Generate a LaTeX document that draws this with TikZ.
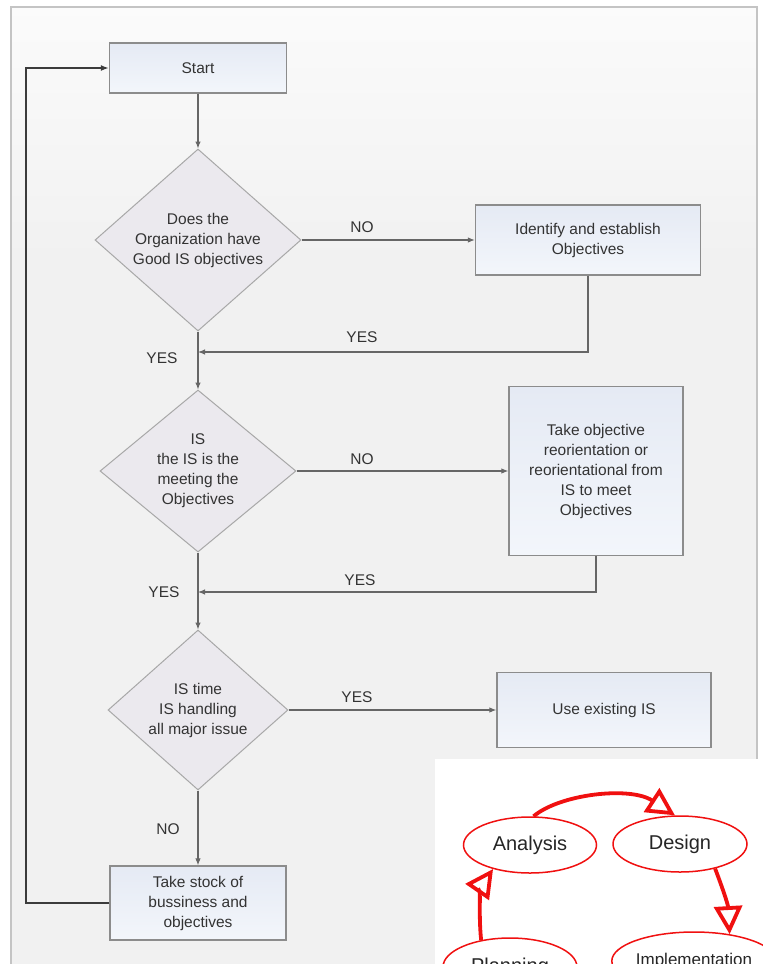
\documentclass[tikz,border=0pt]{standalone}
\usepackage{fontspec}
\setmainfont{Liberation Sans}
\usetikzlibrary{arrows.meta,shapes.geometric}
\definecolor{panelfill}{HTML}{F1F1F1}
\definecolor{panelline}{HTML}{C4C4C4}
\definecolor{boxline}{HTML}{8C8C8C}
\definecolor{boxtop}{HTML}{E5EAF4}
\definecolor{boxbot}{HTML}{F3F6FB}
\definecolor{diafill}{HTML}{EBE9EE}
\definecolor{dialine}{HTML}{A8A8A8}
\definecolor{connline}{HTML}{666666}
\definecolor{loopline}{HTML}{3C3C3C}
\definecolor{txt}{HTML}{333333}
\definecolor{cycred}{HTML}{F01010}
\tikzset{
  flowtext/.style={font=\fontsize{15.5}{20}\selectfont, text=txt, align=center},
  procbox/.style={flowtext, rectangle, draw=boxline, line width=1.3pt,
    top color=boxtop, bottom color=boxbot, inner sep=0pt},
  decision/.style={flowtext, diamond, draw=dialine, line width=1pt,
    fill=diafill, inner sep=0pt},
  conn/.style={draw=connline, line width=1.1pt, -{Latex[length=7pt,width=5.5pt]}},
  loopconn/.style={draw=loopline, line width=1.6pt, -{Latex[length=8pt,width=6pt]}},
  edgelabel/.style={flowtext, inner sep=0pt},
  phase/.style={ellipse, draw=cycred, line width=1.5pt, fill=white, inner sep=0pt,
    text=black!85, font=\fontsize{20}{22}\selectfont},
  cycarrow/.style={draw=cycred, line width=3.8pt,
    -{Triangle[open,length=28pt,width=28pt]}}
}
\begin{document}
\begin{tikzpicture}[x=1pt,y=-1pt]
\useasboundingbox (0,0) rectangle (763,964);
% background panel
\fill[white] (0,0) rectangle (763,964);
\fill[panelfill] (11,7) rectangle (757,975);
\shade[top color=white!70!panelfill, bottom color=panelfill] (12,8) rectangle (756,260);
\draw[panelline, line width=2pt] (11,980) -- (11,7) -- (757,7) -- (757,980);

% nodes
\node[procbox, minimum width=177pt, minimum height=50pt] (start) at (198,68) {Start};
\node[decision, minimum width=206pt, minimum height=182pt, aspect=1.13] (d1) at (198,240)
  {Does the\\Organization have\\Good IS objectives};
\node[procbox, minimum width=225pt, minimum height=70pt] (b2) at (588,240)
  {Identify and establish\\Objectives};
\node[decision, minimum width=196pt, minimum height=162pt, aspect=1.21] (d2) at (198,471)
  {IS\\the IS is the\\meeting the\\Objectives};
\node[procbox, minimum width=174pt, minimum height=169pt] (b3) at (596,471)
  {Take objective\\reorientation or\\reorientational from\\IS to meet\\Objectives};
\node[decision, minimum width=180pt, minimum height=160pt, aspect=1.12] (d3) at (198,710)
  {IS time\\IS handling\\all major issue};
\node[procbox, minimum width=214pt, minimum height=75pt] (b4) at (604,710)
  {Use existing IS};
\node[procbox, minimum width=176pt, minimum height=74pt] (b5) at (198,903)
  {Take stock of\\bussiness and\\objectives};

\coordinate (j1) at (198,352);
\coordinate (j2) at (198,592);
\coordinate (lp) at (26,903);

% connectors
\draw[conn] (start.south) -- (d1.north);
\draw[conn] (d1.east) -- (b2.west);
\draw[conn] (b2.south) |- (j1);
\draw[conn] (d1.south) -- (d2.north);
\draw[conn] (d2.east) -- (b3.west);
\draw[conn] (b3.south) |- (j2);
\draw[conn] (d2.south) -- (d3.north);
\draw[conn] (d3.east) -- (b4.west);
\draw[conn] (d3.south) -- (b5.north);
\draw[loopconn] (b5.west) -- (lp) |- (start.west);

% labels
\node[edgelabel] (l1) at (362,227) {NO};
\node[edgelabel] (l2) at (362,337) {YES};
\node[edgelabel] (l3) at (162,358) {YES};
\node[edgelabel] (l4) at (362,459) {NO};
\node[edgelabel] (l5) at (360,580) {YES};
\node[edgelabel] (l6) at (164,592) {YES};
\node[edgelabel] (l7) at (357,697) {YES};
\node[edgelabel] (l8) at (168,829) {NO};

% inset
\begin{scope}
\clip (435,759) rectangle (763,964);
\fill[white] (435,759) rectangle (763,964);
\node[phase, minimum width=133pt, minimum height=56pt] (ana) at (530,845) {Analysis};
\node[phase, minimum width=134pt, minimum height=56pt] (des) at (680,844) {Design};
\node[phase, minimum width=134pt, minimum height=58pt] (pla) at (510,967) {Planning};
\node[phase, minimum width=132pt, minimum height=58pt, font=\fontsize{17}{19}\selectfont] (imp) at (694,961) {Implementation};
\draw[cycarrow] (ana.83) .. controls (560,794) and (630,786) .. (des.100);
\draw[cycarrow] (des.-35) .. controls (724,892) and (728,905) .. (imp.37);
\draw[cycarrow] (pla.137) .. controls (478,910) and (482,885) .. (ana.213);
\end{scope}
\end{tikzpicture}
\end{document}
